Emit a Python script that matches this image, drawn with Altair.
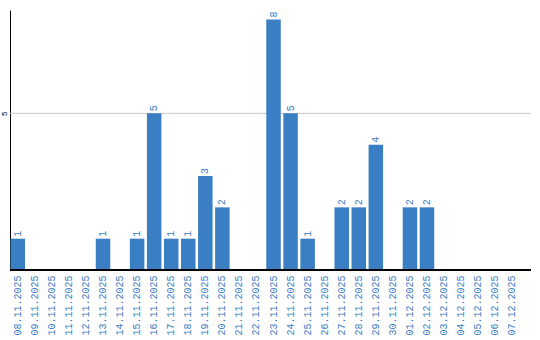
import altair as alt
import pandas as pd

dates = ["08.11.2025", "09.11.2025", "10.11.2025", "11.11.2025", "12.11.2025",
         "13.11.2025", "14.11.2025", "15.11.2025", "16.11.2025", "17.11.2025",
         "18.11.2025", "19.11.2025", "20.11.2025", "21.11.2025", "22.11.2025",
         "23.11.2025", "24.11.2025", "25.11.2025", "26.11.2025", "27.11.2025",
         "28.11.2025", "29.11.2025", "30.11.2025", "01.12.2025", "02.12.2025",
         "03.12.2025", "04.12.2025", "05.12.2025", "06.12.2025", "07.12.2025"]
counts = [1, 0, 0, 0, 0,
          1, 0, 1, 5, 1,
          1, 3, 2, 0, 0,
          8, 5, 1, 0, 2,
          2, 4, 0, 2, 2,
          0, 0, 0, 0, 0]
y_ticks = [5]

df = pd.DataFrame({"date": dates, "count": counts})

BLUE = "#3a7ec3"

x_enc = alt.X("date:N", sort=dates,
              scale=alt.Scale(range=[0, 510], paddingInner=0.15, paddingOuter=0.03),
              axis=alt.Axis(title=None, domain=False, ticks=False, labelAngle=270,
                            labelColor=BLUE, labelFont="Liberation Mono",
                            labelFontSize=10, labelPadding=5, labelAlign="right",
                            labelBaseline="middle"))
y_enc = alt.Y("count:Q", scale=alt.Scale(domain=[0, 8.3], nice=False, zero=True),
              axis=alt.Axis(title=None, values=y_ticks, ticks=False, domain=True,
                            domainColor="black", domainWidth=1, grid=False,
                            labelAngle=270, labelFontSize=8, labelColor="black",
                            labelPadding=2, labelFont="Liberation Sans"))

grid = alt.Chart(pd.DataFrame({"v": y_ticks})).mark_rule(
    color="#c8c8c8", strokeWidth=1).encode(y=alt.Y("v:Q", scale=alt.Scale(domain=[0, 8.3], nice=False)))

bars = alt.Chart(df).mark_bar(color=BLUE).encode(x=x_enc, y=y_enc)

labels = alt.Chart(df).transform_filter("datum.count > 0").mark_text(
    angle=270, align="left", baseline="middle", dx=2, color=BLUE,
    font="Liberation Mono", fontSize=10
).encode(x=alt.X("date:N", sort=dates), y="count:Q", text="count:Q")

base = alt.Chart(df).mark_rule(color="black", strokeWidth=1.5).encode(y=alt.datum(0))

chart = alt.layer(grid, bars, labels, base).properties(
    width=521, height=260,
    background="white",
    autosize=alt.AutoSizeParams(type="none"),
    padding={"left": 10, "top": 10, "right": 9, "bottom": 70},
).configure_view(strokeWidth=0, stroke=None)

chart.save("out.html", embed_options={"renderer": "svg", "actions": False})
